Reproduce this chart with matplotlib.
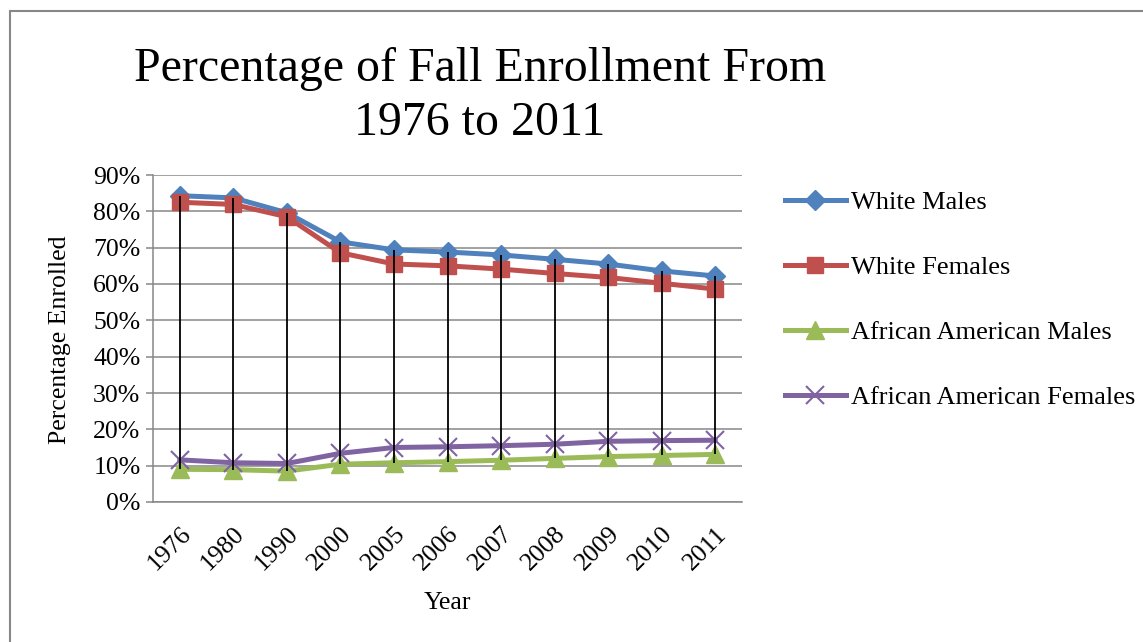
import numpy as np
import matplotlib
matplotlib.use('Agg')
from matplotlib import pyplot as plt
from matplotlib.ticker import PercentFormatter
from matplotlib.patches import Rectangle

plt.rcParams['font.family'] = ['Liberation Serif', 'DejaVu Serif']

years = ['1976', '1980', '1990', '2000', '2005', '2006', '2007', '2008', '2009', '2010', '2011']
white_males = [84.3, 83.7, 79.6, 71.6, 69.4, 68.8, 68.0, 66.8, 65.5, 63.6, 62.2]
white_females = [82.5, 81.9, 78.5, 68.6, 65.5, 65.0, 64.1, 62.9, 61.8, 60.2, 58.6]
aa_males = [9.0, 8.9, 8.5, 10.4, 10.8, 11.1, 11.5, 12.0, 12.5, 12.8, 13.1]
aa_females = [11.6, 10.8, 10.6, 13.4, 15.0, 15.2, 15.5, 15.9, 16.7, 16.9, 17.0]

series = [
    ('White Males', white_males, '#4F81BD', 'D', 10),
    ('White Females', white_females, '#C0504D', 's', 12),
    ('African American Males', aa_males, '#9BBB59', '^', 13),
    ('African American Females', aa_females, '#8064A2', 'x', 13),
]

grey = '#878787'

fig = plt.figure(figsize=(11.43, 6.42), dpi=100)
ax = fig.add_axes([153/1143, 140/642, 589/1143, 327/642])

x = np.arange(len(years))
for name, vals, col, mk, ms in series:
    if mk == 'x':
        ax.plot(x, vals, color=col, lw=3.6, marker=mk, markersize=ms, markeredgewidth=1.5, label=name, zorder=3)
    else:
        ax.plot(x, vals, color=col, lw=3.6, marker=mk, markersize=ms, markeredgecolor=col, label=name, zorder=3)

# high-low lines
all_vals = np.array([s[1] for s in series])
ax.vlines(x, all_vals.min(axis=0), all_vals.max(axis=0), color='black', lw=1.3, zorder=4)

ax.set_xlim(-0.5, len(years) - 0.5)
ax.set_ylim(0, 90)
ax.set_yticks(np.arange(0, 91, 10))
ax.yaxis.set_major_formatter(PercentFormatter(decimals=0))
ax.set_xticks(x)
ax.set_xticklabels(years, rotation=45, ha='right', va='top', rotation_mode='anchor')
ax.tick_params(axis='x', length=0, pad=15, labelsize=18.5)
ax.tick_params(axis='y', length=5, width=1.1, color=grey, labelsize=18.5, pad=4)
ax.grid(axis='y', color=grey, lw=1.1)
ax.set_axisbelow(True)
for sp in ['top', 'right']:
    ax.spines[sp].set_visible(False)
for sp in ['left', 'bottom']:
    ax.spines[sp].set_color(grey)
    ax.spines[sp].set_linewidth(1.1)

fig.text(447/1143, 1 - 603/642, 'Year', fontsize=18.5, ha='center', va='center')
fig.text(60/1143, 1 - 340/642, 'Percentage Enrolled', fontsize=18.5, ha='center', va='center', rotation=90)
fig.text(480/1143, 1 - 96/642, 'Percentage of Fall Enrollment From\n1976 to 2011',
         fontsize=34.5, ha='center', va='center', linespacing=1.3)

ax.legend(loc='upper left', bbox_to_anchor=(785/1143, 1 - 191/642), bbox_transform=fig.transFigure,
          frameon=False, fontsize=19, labelspacing=1.57, handlelength=2.3, handletextpad=0.2,
          borderaxespad=0, borderpad=0)

fig.patches.append(Rectangle((10/1143, -0.1), 1.2, 1.1 - 11/642, transform=fig.transFigure,
                             fill=False, edgecolor=grey, lw=1.5, zorder=0))

fig.savefig('out.png', dpi=100)
